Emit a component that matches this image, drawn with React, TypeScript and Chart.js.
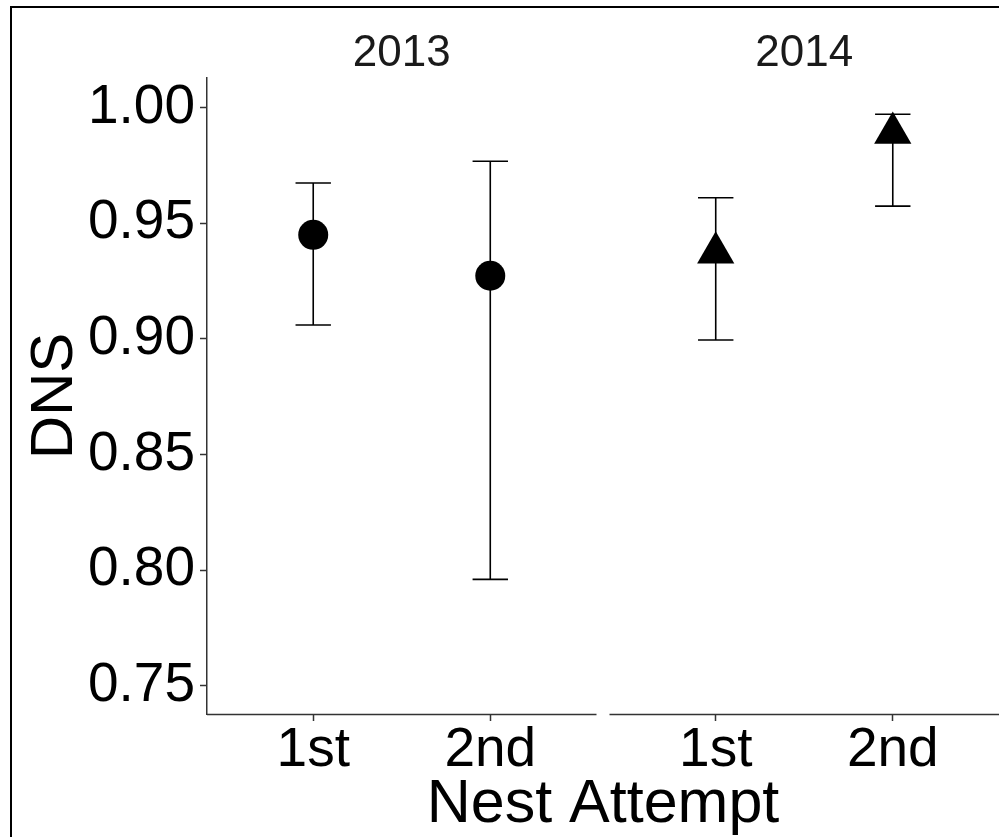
import React, { useEffect, useRef } from "react";
import { Chart, registerables } from "chart.js";

Chart.register(...registerables);

// ---- data ----
const years = ["2013", "2014"];
const attempts = ["1st", "2nd"];
const dns2013 = [0.945, 0.9273];
const lower2013 = [0.906, 0.796];
const upper2013 = [0.9674, 0.9768];
const dns2014 = [0.9372, 0.989];
const lower2014 = [0.8995, 0.9574];
const upper2014 = [0.961, 0.9971];
const yTicks = [0.75, 0.8, 0.85, 0.9, 0.95, 1.0];
const yMin = 0.7378;
const yMax = 1.0128;

// facet layout in x units (discrete scale expanded by 0.6 each side)
const EXPAND = 0.6;
const PANEL_SPAN = attempts.length - 1 + 2 * EXPAND; // 2.2
const PANEL_GAP = 0.0734;
const panelOffset = (p: number) => p * (PANEL_SPAN + PANEL_GAP);
const xPos = (p: number, i: number) => panelOffset(p) + i + 1;

const FONT = "'Liberation Sans', Arial, sans-serif";
const CAP_WIDTH = 0.2;

const series = [
  { mean: dns2013, lo: lower2013, hi: upper2013, style: "circle", radius: 15 },
  { mean: dns2014, lo: lower2014, hi: upper2014, style: "triangle", radius: 21.5 },
];

const facetPlugin = {
  id: "facetPlugin",
  beforeDraw(chart: any) {
    const { ctx } = chart;
    ctx.save();
    ctx.fillStyle = "#fff";
    ctx.fillRect(0, 0, chart.width, chart.height);
    // outer frame (left and top edges visible)
    ctx.strokeStyle = "#000";
    ctx.lineWidth = 2;
    ctx.beginPath();
    ctx.moveTo(11, chart.height + 5);
    ctx.lineTo(11, 7);
    ctx.lineTo(chart.width + 5, 7);
    ctx.stroke();
    ctx.restore();
  },
  beforeDatasetsDraw(chart: any) {
    const { ctx, scales } = chart;
    const xs = scales.x;
    const ys = scales.y;
    ctx.save();
    ctx.strokeStyle = "#000";
    ctx.lineWidth = 1.6;
    series.forEach((s, p) => {
      s.mean.forEach((_, i) => {
        const xv = xPos(p, i);
        const x = xs.getPixelForValue(xv);
        const xl = xs.getPixelForValue(xv - CAP_WIDTH / 2);
        const xr = xs.getPixelForValue(xv + CAP_WIDTH / 2);
        const yl = ys.getPixelForValue(s.lo[i]);
        const yh = ys.getPixelForValue(s.hi[i]);
        ctx.beginPath();
        ctx.moveTo(x, yl);
        ctx.lineTo(x, yh);
        ctx.moveTo(xl, yl);
        ctx.lineTo(xr, yl);
        ctx.moveTo(xl, yh);
        ctx.lineTo(xr, yh);
        ctx.stroke();
      });
    });
    ctx.restore();
  },
  afterDraw(chart: any) {
    const { ctx, scales, chartArea } = chart;
    const xs = scales.x;
    ctx.save();
    // x axis line per facet
    ctx.strokeStyle = "#333";
    ctx.lineWidth = 1.5;
    years.forEach((_, p) => {
      const a = xs.getPixelForValue(panelOffset(p) + 1 - EXPAND);
      const b = xs.getPixelForValue(panelOffset(p) + attempts.length + EXPAND);
      ctx.beginPath();
      ctx.moveTo(a, chartArea.bottom + 0.5);
      ctx.lineTo(b, chartArea.bottom + 0.5);
      ctx.stroke();
    });
    // strip labels
    ctx.fillStyle = "#1a1a1a";
    ctx.font = `44px ${FONT}`;
    ctx.textAlign = "center";
    ctx.textBaseline = "alphabetic";
    years.forEach((y, p) => {
      const c = xs.getPixelForValue(panelOffset(p) + (1 + attempts.length) / 2);
      ctx.fillText(y, c, 66);
    });
    ctx.restore();
  },
};

export default function App() {
  const ref = useRef<HTMLCanvasElement | null>(null);
  useEffect(() => {
    if (!ref.current) return;
    const tickVals: number[] = [];
    const tickLabels: string[] = [];
    years.forEach((_, p) =>
      attempts.forEach((a, i) => {
        tickVals.push(xPos(p, i));
        tickLabels.push(a);
      })
    );
    const chart = new Chart(ref.current, {
      type: "scatter",
      data: {
        datasets: series.map((s, p) => ({
          label: years[p],
          data: s.mean.map((v, i) => ({ x: xPos(p, i), y: v })),
          pointStyle: s.style as any,
          pointRadius: s.radius,
          pointHoverRadius: s.radius,
          pointBackgroundColor: "#000",
          pointBorderColor: "#000",
          pointBorderWidth: 0,
          clip: false as any,
        })),
      },
      options: {
        animation: false,
        responsive: false,
        devicePixelRatio: 1,
        events: [],
        layout: { autoPadding: false, padding: { top: 78, left: 0, right: 0, bottom: 0 } },
        plugins: { legend: { display: false }, tooltip: { enabled: false } },
        scales: {
          x: {
            type: "linear",
            min: 1 - EXPAND,
            max: panelOffset(years.length - 1) + attempts.length + EXPAND,
            afterFit: (s: any) => {
              s.height = 123;
              s.paddingLeft = 0;
              s.paddingRight = 0;
            },
            afterBuildTicks: (s: any) => {
              s.ticks = tickVals.map((v) => ({ value: v }));
            },
            ticks: {
              autoSkip: false,
              maxRotation: 0,
              padding: 0,
              color: "#000",
              font: { family: FONT, size: 55, lineHeight: 1.1 },
              callback: (_v: any, idx: number) => tickLabels[idx],
            },
            grid: {
              drawOnChartArea: false,
              drawTicks: true,
              tickLength: 7,
              tickColor: "#333",
              tickWidth: 1.5,
            },
            border: { display: false },
            title: {
              display: true,
              text: "Nest Attempt",
              color: "#000",
              font: { family: FONT, size: 61, lineHeight: 1.03 },
              padding: { top: 0, bottom: 0 },
            },
          },
          y: {
            type: "linear",
            min: yMin,
            max: yMax,
            afterFit: (s: any) => {
              s.width = 207;
              s.paddingLeft = 0;
              s.paddingRight = 0;
            },
            afterBuildTicks: (s: any) => {
              s.ticks = yTicks.map((v) => ({ value: v }));
            },
            ticks: {
              padding: 5,
              color: "#000",
              font: { family: FONT, size: 55 },
              callback: (v: any) => Number(v).toFixed(2),
            },
            grid: {
              drawOnChartArea: false,
              drawTicks: true,
              tickLength: 7,
              tickColor: "#333",
              tickWidth: 1.5,
            },
            border: { display: true, color: "#333", width: 1.5 },
            title: {
              display: true,
              text: "DNS",
              color: "#000",
              font: { family: FONT, size: 60 },
              padding: { top: 19, bottom: 0 },
            },
          },
        },
      },
      plugins: [facetPlugin],
    });
    return () => chart.destroy();
  }, []);
  return (
    <div style={{ position: "fixed", left: 0, top: 0, width: 999, height: 837, background: "#fff", overflow: "hidden" }}>
      <canvas ref={ref} width={999} height={837} style={{ display: "block", width: 999, height: 837 }} />
    </div>
  );
}
